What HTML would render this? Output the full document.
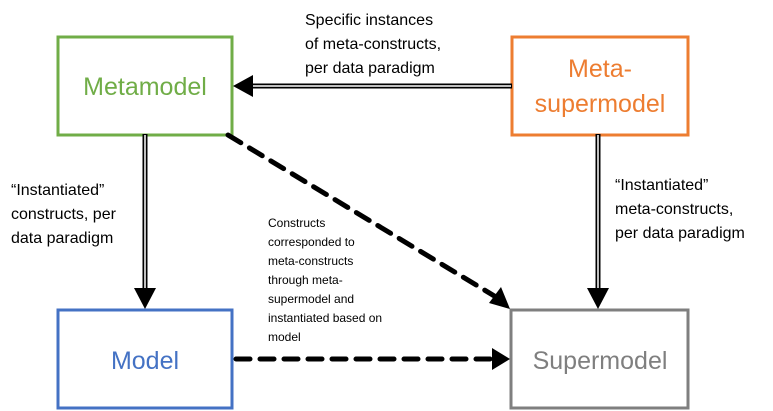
<!DOCTYPE html>
<html><head><style>
html,body{margin:0;padding:0;background:#fff;}
svg{display:block;}
text{font-family:"Liberation Sans",sans-serif;}
</style></head><body>
<svg width="773" height="411" viewBox="0 0 773 411" xmlns="http://www.w3.org/2000/svg">
<rect x="58" y="37" width="174" height="98" fill="none" stroke="#70ad47" stroke-width="3"/>
<rect x="512" y="37" width="176" height="98" fill="none" stroke="#ed7d31" stroke-width="3"/>
<rect x="58" y="310" width="174" height="98" fill="none" stroke="#4472c4" stroke-width="3"/>
<rect x="511" y="310" width="177" height="98" fill="none" stroke="#7f7f7f" stroke-width="3"/>
<text x="145" y="95" font-size="25" fill="#70ad47" text-anchor="middle">Metamodel</text>
<text x="600" y="77" font-size="25" fill="#ed7d31" text-anchor="middle">Meta-</text>
<text x="600" y="112" font-size="25" fill="#ed7d31" text-anchor="middle">supermodel</text>
<text x="145" y="369" font-size="25" fill="#4472c4" text-anchor="middle">Model</text>
<text x="600" y="369" font-size="25" fill="#7f7f7f" text-anchor="middle">Supermodel</text>
<!-- horizontal double arrow -->
<line x1="512" y1="86" x2="252" y2="86" stroke="#000" stroke-width="5"/>
<line x1="511" y1="86" x2="252" y2="86" stroke="#fff" stroke-width="1.5"/>
<polygon points="233,86 253,75 253,97" fill="#000"/>
<!-- left vertical -->
<line x1="145" y1="134" x2="145" y2="290" stroke="#000" stroke-width="5"/>
<line x1="145" y1="135" x2="145" y2="290" stroke="#fff" stroke-width="1.5"/>
<polygon points="145,309 134,288 156,288" fill="#000"/>
<!-- right vertical -->
<line x1="598" y1="134" x2="598" y2="290" stroke="#000" stroke-width="5"/>
<line x1="598" y1="135" x2="598" y2="290" stroke="#fff" stroke-width="1.5"/>
<polygon points="598,309 587,288 609,288" fill="#000"/>
<!-- dashed diagonal -->
<line x1="228" y1="135" x2="496" y2="297" stroke="#000" stroke-width="5" stroke-dasharray="15,10" stroke-linecap="round"/>
<polygon points="510,309 489,303 501,287" fill="#000"/>
<!-- dashed horizontal -->
<line x1="236" y1="359" x2="492" y2="359" stroke="#000" stroke-width="5" stroke-dasharray="14,10" stroke-linecap="round"/>
<polygon points="510,359 492,348 492,370" fill="#000"/>
<!-- labels -->
<g font-size="16" fill="#000">
<text x="305" y="25">Specific instances</text>
<text x="305" y="49">of meta-constructs,</text>
<text x="305" y="73">per data paradigm</text>
<text x="11" y="195">“Instantiated”</text>
<text x="11" y="219">constructs, per</text>
<text x="11" y="243">data paradigm</text>
<text x="615" y="190">“Instantiated”</text>
<text x="615" y="214">meta-constructs,</text>
<text x="615" y="238">per data paradigm</text>
</g>
<g font-size="12" fill="#000">
<text x="268" y="227">Constructs</text>
<text x="268" y="246">corresponded to</text>
<text x="268" y="265">meta-constructs</text>
<text x="268" y="284">through meta-</text>
<text x="268" y="303">supermodel and</text>
<text x="268" y="322">instantiated based on</text>
<text x="268" y="341">model</text>
</g>
</svg>
</body></html>
